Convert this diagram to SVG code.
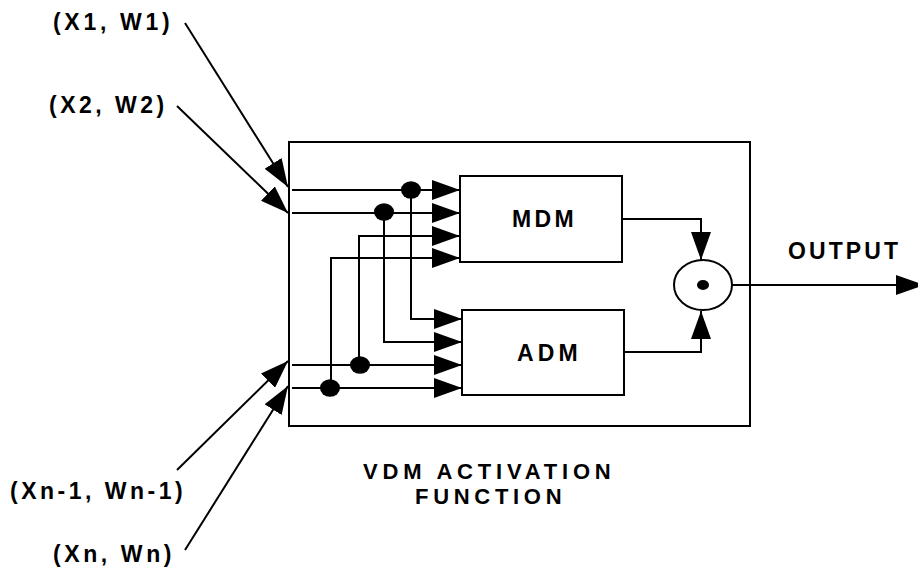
<svg xmlns="http://www.w3.org/2000/svg" width="918" height="576" viewBox="0 0 918 576">
<style>
.box{fill:#fff;stroke:#000;stroke-width:2}
.ln{fill:none;stroke:#000;stroke-width:2}
.arr{fill:none;stroke:#000;stroke-width:2;marker-end:url(#ah)}
.dot{fill:#000}
.t{font-family:"Liberation Sans",Arial,sans-serif;font-weight:bold;font-size:23px;fill:#000}
.cap{font-size:22px}
</style>
<defs>
<marker id="ah" markerUnits="userSpaceOnUse" markerWidth="28" markerHeight="20" refX="28" refY="10" orient="auto" viewBox="0 0 28 20">
<path d="M0,0 L28,10 L0,20 Z" fill="#000"/>
</marker>
</defs>

<g id="vdm">
<rect class="box" x="289" y="142" width="461" height="284"/>
<text class="t cap" x="363" y="479" letter-spacing="4.8">VDM ACTIVATION</text>
<text class="t cap" x="415" y="504" letter-spacing="4.7">FUNCTION</text>
</g>

<g id="mdm">
<rect class="box" x="460" y="176" width="162" height="86"/>
<text class="t" x="512" y="227" letter-spacing="3.4">MDM</text>
</g>

<g id="adm">
<rect class="box" x="462" y="310" width="162" height="85"/>
<text class="t" x="517" y="361" letter-spacing="4.1">ADM</text>
</g>

<g id="mult">
<ellipse class="box" cx="703" cy="285" rx="29" ry="25"/>
<ellipse class="dot" cx="703" cy="285" rx="6" ry="5"/>
</g>

<g id="in1"><text class="t" x="53" y="30" letter-spacing="3.7">(X1, W1)</text></g>
<g id="in2"><text class="t" x="49" y="113" letter-spacing="3.5">(X2, W2)</text></g>
<g id="inn1"><text class="t" x="10" y="499" letter-spacing="3.5">(Xn-1, Wn-1)</text></g>
<g id="inn"><text class="t" x="53" y="562" letter-spacing="3.6">(Xn, Wn)</text></g>
<g id="out"><text class="t" x="788" y="259" letter-spacing="3.1">OUTPUT</text></g>

<g id="connectors">
<line class="arr" x1="185" y1="23" x2="288" y2="187"/>
<line class="arr" x1="177" y1="106" x2="288" y2="213"/>
<line class="arr" x1="177" y1="470" x2="288" y2="361"/>
<line class="arr" x1="185" y1="550" x2="288" y2="386"/>

<line class="arr" x1="292" y1="190" x2="460" y2="190"/>
<line class="arr" x1="292" y1="213" x2="460" y2="213"/>
<polyline class="arr" points="359,365 359,236 460,236"/>
<polyline class="arr" points="331,388 331,258 460,258"/>

<polyline class="arr" points="411,190 411,319 462,319"/>
<polyline class="arr" points="384,213 384,342 462,342"/>
<line class="arr" x1="292" y1="365" x2="462" y2="365"/>
<line class="arr" x1="292" y1="388" x2="462" y2="388"/>

<ellipse class="dot" cx="411" cy="190" rx="10" ry="8.7"/>
<ellipse class="dot" cx="384" cy="212" rx="10" ry="8.7"/>
<ellipse class="dot" cx="360" cy="365" rx="10" ry="8.7"/>
<ellipse class="dot" cx="330" cy="388" rx="10" ry="8.7"/>

<polyline class="arr" points="622,219 701,219 701,260"/>
<polyline class="arr" points="624,352 701,352 701,311"/>
<line class="arr" x1="732" y1="285" x2="924" y2="285"/>
</g>
</svg>
